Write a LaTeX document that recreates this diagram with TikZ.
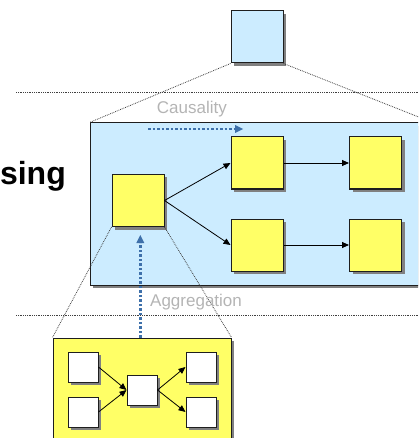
\documentclass[tikz,border=0pt]{standalone}
\usepackage{fontspec}
\setmainfont{Liberation Sans}
\usetikzlibrary{arrows.meta,shadows}
\definecolor{panelblue}{RGB}{204,236,255}
\definecolor{boxyellow}{RGB}{255,255,102}
\definecolor{linkblue}{RGB}{62,112,170}
\definecolor{labelgray}{RGB}{180,180,180}
\definecolor{edgedark}{RGB}{30,30,30}
\tikzset{
  box/.style={draw=edgedark, line width=1pt, rectangle, inner sep=0pt,
    drop shadow={shadow xshift=3pt, shadow yshift=-3pt, fill=black!50, opacity=1}},
  bigbox/.style={box, minimum width=52pt, minimum height=52pt},
  smallbox/.style={box, fill=white, minimum width=30pt, minimum height=30pt},
  guide/.style={densely dotted, draw=black!75, line width=0.8pt},
  flow/.style={draw=black, line width=0.8pt, -{Triangle[length=7pt,width=6pt]}},
  relation/.style={draw=linkblue, line width=2.5pt, dash pattern=on 2.5pt off 2pt,
    -{Triangle[length=8pt,width=8pt,line width=0pt]}},
  lbl/.style={text=labelgray, font=\fontsize{17}{17}\selectfont, inner sep=0pt}
}
\begin{document}
\begin{tikzpicture}[x=1pt,y=-1pt]
\useasboundingbox (0,0) rectangle (418,438);
\clip (0,0) rectangle (418,438);
% horizontal level separators
\coordinate (h1a) at (16,92.7);
\coordinate (h1b) at (420,92.7);
\coordinate (h2a) at (16,315);
\coordinate (h2b) at (420,315);
\draw[guide] (h1a) -- (h1b);
\draw[guide] (h2a) -- (h2b);
% top box
\node[bigbox, fill=panelblue] (top) at (257,37) {};
% middle panel
\node[box, fill=panelblue, minimum width=342pt, minimum height=162pt] (panel) at (261,204) {};
\draw[guide] (top.south west) -- (panel.north west);
\draw[guide] (top.south east) -- (panel.north east);
% lower panel
\node[box, fill=boxyellow, minimum width=178pt, minimum height=124pt] (lower) at (142,400) {};
% panel boxes
\node[bigbox, fill=boxyellow] (L) at (138,200.5) {};
\node[bigbox, fill=boxyellow] (TM) at (257,163) {};
\node[bigbox, fill=boxyellow] (TR) at (375.5,163) {};
\node[bigbox, fill=boxyellow] (BM) at (257,245) {};
\node[bigbox, fill=boxyellow] (BR) at (375.5,245) {};
\draw[flow] (L.east) -- (TM.west);
\draw[flow] (L.east) -- (BM.west);
\draw[flow] (TM.east) -- (TR.east -| TR.west);
\draw[flow] (BM.east) -- (BR.west);
% zoom lines to lower panel
\draw[guide] (L.south west) -- (lower.north west);
\draw[guide] (L.south east) -- (lower.north east);
% lower panel boxes
\node[smallbox] (a1) at (83,367) {};
\node[smallbox] (a2) at (83,412) {};
\node[smallbox] (m) at (142,390) {};
\node[smallbox] (b1) at (201,367) {};
\node[smallbox] (b2) at (201,412) {};
\draw[flow] (a1.east) -- (m.west);
\draw[flow] (a2.east) -- (m.west);
\draw[flow] (m.east) -- (b1.west);
\draw[flow] (m.east) -- (b2.west);
% labels
\node[lbl, anchor=base west] (caus) at (156.7,113.3) {Causality};
\node[lbl, anchor=base west] (aggr) at (150,306.7) {Aggregation};
\node[anchor=base east, inner sep=0pt, font=\fontsize{32}{32}\selectfont\bfseries] (sing) at (66,185) {sing};
% relation arrows
\coordinate (c1) at (148,129);
\coordinate (c2) at (243,129);
\draw[relation] (c1) -- (c2);
\coordinate (g2) at (140.3,235);
\draw[relation] (lower.north -| g2) -- (g2);
\end{tikzpicture}
\end{document}
